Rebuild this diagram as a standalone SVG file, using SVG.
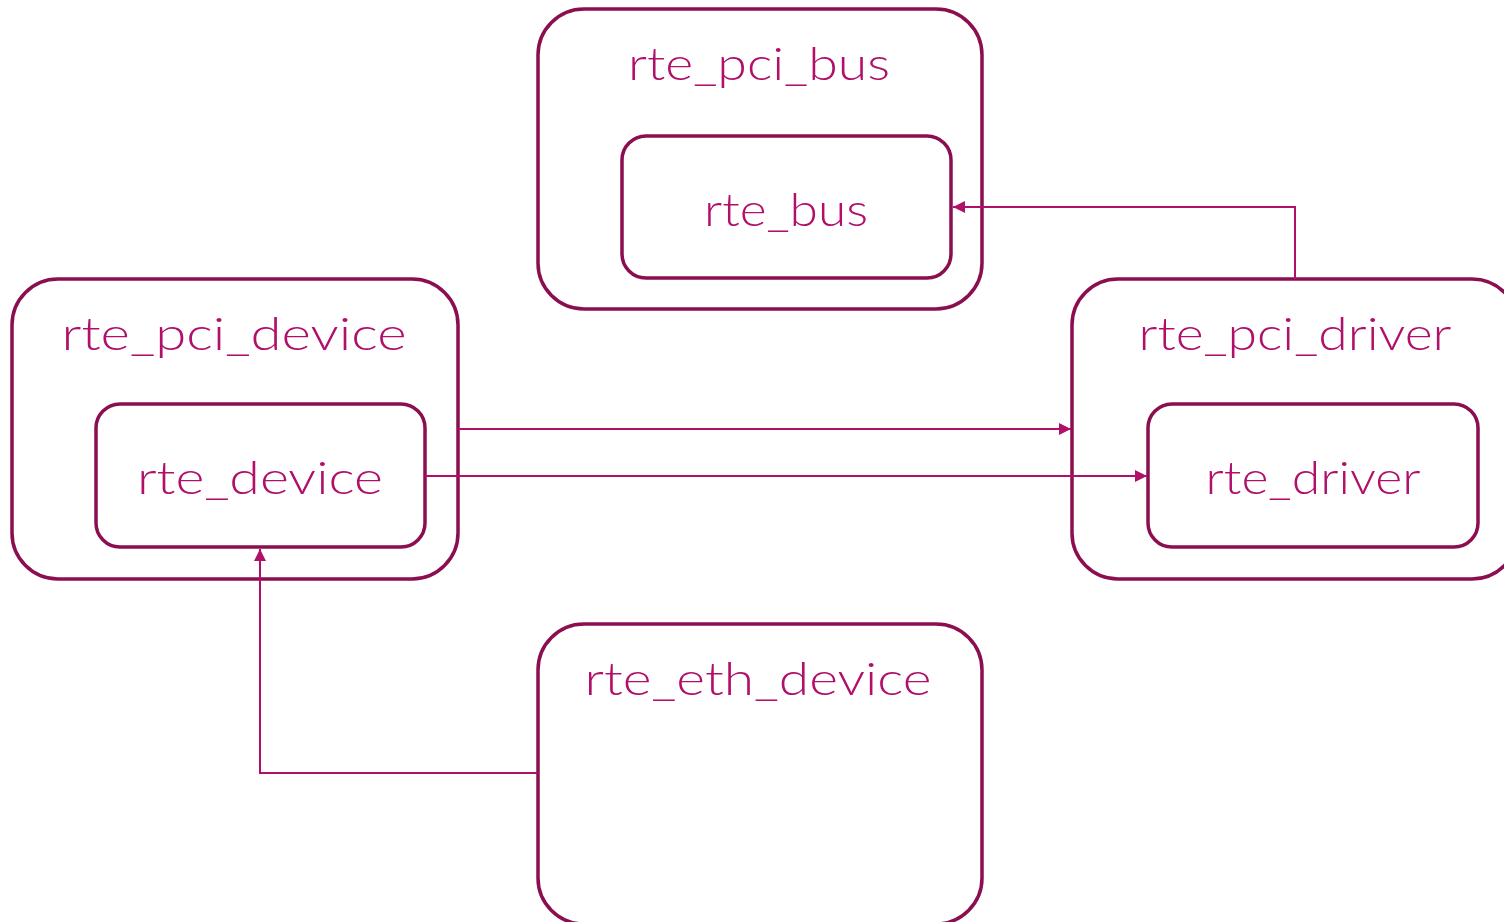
<svg xmlns="http://www.w3.org/2000/svg" width="1504" height="922" viewBox="0 0 1504 922">
<style>
.box{fill:#fff;stroke:#8a0e50;stroke-width:3.5}
.lbl{font-family:Lato,"Liberation Sans",sans-serif;font-size:46px;font-weight:300;fill:#b0106a;text-anchor:middle}
.conn{fill:none;stroke:#b0106a;stroke-width:2}
</style>
<defs>
<marker id="arr" viewBox="0 0 10 10" refX="10" refY="5" markerWidth="15" markerHeight="12" markerUnits="userSpaceOnUse" orient="auto">
<path d="M0,0 L10,5 L0,10 z" fill="#b0106a"/>
</marker>
</defs>
<rect width="1504" height="922" fill="#fff"/>
<g id="rte_pci_bus">
<rect class="box" x="538" y="9" width="444" height="300" rx="46"/>
<text class="lbl" x="759" y="80" textLength="262" lengthAdjust="spacingAndGlyphs">rte_pci_bus</text>
</g>
<g id="rte_bus">
<rect class="box" x="622" y="136" width="329" height="142" rx="24"/>
<text class="lbl" x="786" y="226" textLength="164" lengthAdjust="spacingAndGlyphs">rte_bus</text>
</g>
<g id="rte_pci_device">
<rect class="box" x="12" y="279" width="446" height="300" rx="46"/>
<text class="lbl" x="234" y="350" textLength="345" lengthAdjust="spacingAndGlyphs">rte_pci_device</text>
</g>
<g id="rte_device">
<rect class="box" x="96" y="404" width="329" height="143" rx="24"/>
<text class="lbl" x="260" y="494" textLength="246" lengthAdjust="spacingAndGlyphs">rte_device</text>
</g>
<g id="rte_pci_driver">
<rect class="box" x="1072" y="279" width="446" height="300" rx="46"/>
<text class="lbl" x="1295" y="350" textLength="313" lengthAdjust="spacingAndGlyphs">rte_pci_driver</text>
</g>
<g id="rte_driver">
<rect class="box" x="1148" y="404" width="330" height="143" rx="24"/>
<text class="lbl" x="1313" y="494" textLength="215" lengthAdjust="spacingAndGlyphs">rte_driver</text>
</g>
<g id="rte_eth_device">
<rect class="box" x="538" y="624" width="444" height="300" rx="46"/>
<text class="lbl" x="758" y="695" textLength="347" lengthAdjust="spacingAndGlyphs">rte_eth_device</text>
</g>
<g id="connectors">
<path class="conn" d="M1295,279 V207 H953" marker-end="url(#arr)"/>
<path class="conn" d="M458,429 H1071" marker-end="url(#arr)"/>
<path class="conn" d="M425,476 H1147" marker-end="url(#arr)"/>
<path class="conn" d="M538,773 H260 V549" marker-end="url(#arr)"/>
</g>
</svg>
